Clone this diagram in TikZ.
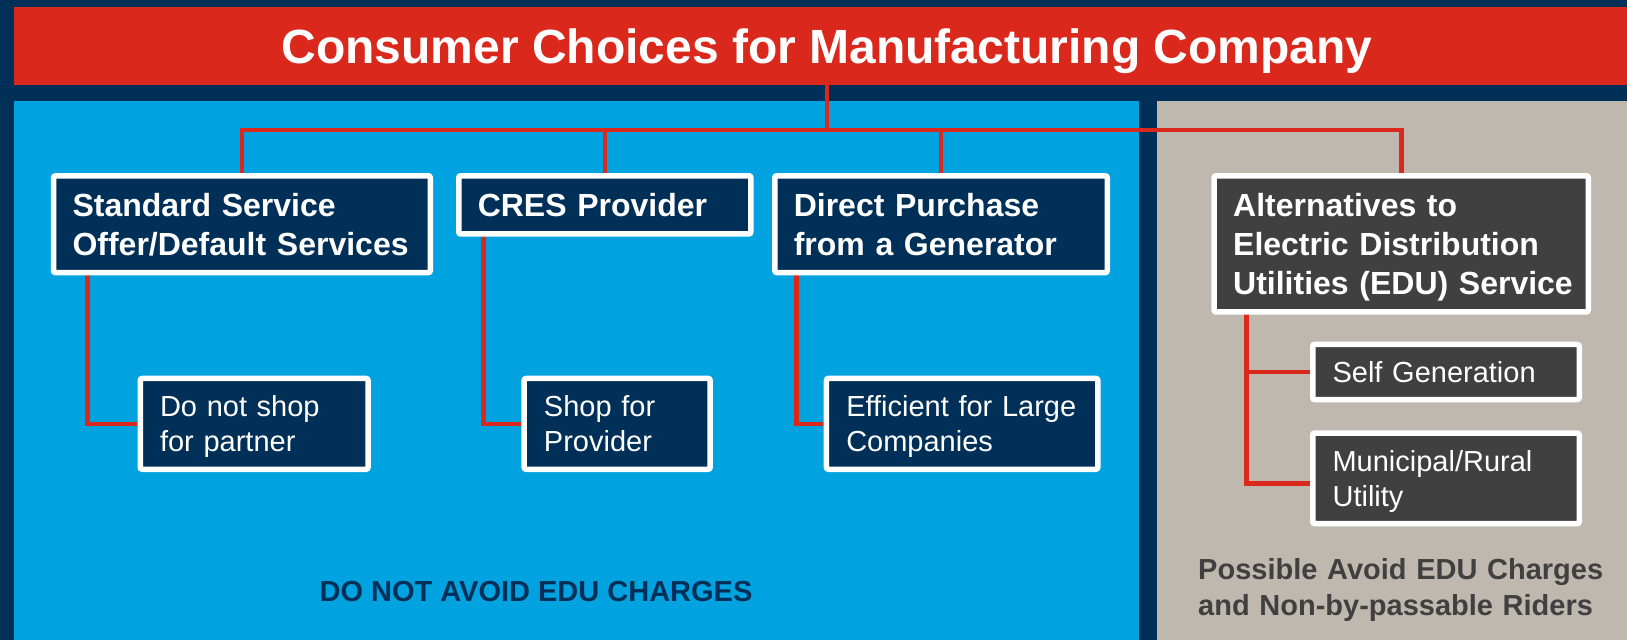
\documentclass[tikz,border=0pt]{standalone}
\usepackage{fontspec}
\setmainfont{Liberation Sans}
\definecolor{navy}{RGB}{0,48,87}
\definecolor{bluep}{RGB}{0,162,224}
\definecolor{grayp}{RGB}{191,184,175}
\definecolor{linkred}{RGB}{218,41,28}
\definecolor{dgray}{RGB}{64,64,64}
\pgfdeclarelayer{back}
\pgfdeclarelayer{wires}
\pgfsetlayers{back,wires,main}
\begin{document}
\begin{tikzpicture}[x=1pt,y=-1pt,
  box/.style={draw=white, line width=5.5pt, fill=navy, rounded corners=2pt, align=left, text=white, inner ysep=0pt, outer sep=0pt,
    execute at begin node={\rule{0pt}{0.966em}}, execute at end node={\rule[-0.25em]{0pt}{0pt}}},
  bigbox/.style={box, font=\fontsize{32}{38.7}\selectfont\bfseries, inner xsep=19pt},
  smallbox/.style={box, font=\fontsize{29}{35}\selectfont, inner xsep=19.8pt},
  link/.style={draw=linkred, line width=4.6pt},
  foot/.style={font=\fontsize{29}{36.6}\selectfont\bfseries, inner sep=0pt}]
\useasboundingbox (0,0) rectangle (1627,640);
\begin{pgfonlayer}{back}
  \fill[navy] (0,0) rectangle (1627,640);
  \fill[bluep] (14,100.7) rectangle (1139,640);
  \fill[grayp] (1157,100.7) rectangle (1627,640);
\end{pgfonlayer}
% banner and title
\node[fill=linkred, minimum width=1613pt, minimum height=78.3pt, inner sep=0pt, outer sep=0pt, anchor=north west] (banner) at (14,6.7) {};
\node[anchor=base, text=white, inner sep=0pt, font=\fontsize{48}{55}\selectfont\bfseries] (title) at (827,63.3) {Consumer Choices for Manufacturing Company};
% main choice boxes
\node[bigbox, text width=338.8pt, minimum height=96.8pt] (b1) at (241.9,224.2) {Standard Service\\Offer/Default Services};
\node[bigbox, text width=254.1pt, minimum height=58.2pt] (b2) at (604.8,204.85) {CRES Provider};
\node[bigbox, text width=294.5pt, minimum height=96.8pt] (b3) at (941,224.2) {Direct Purchase\\from a Generator};
\node[bigbox, fill=dgray, text width=336.1pt, minimum height=136.2pt] (b4) at (1401.2,243.85) {Alternatives to\\Electric Distribution\\\mbox{Utilities (EDU) Service}};
% sub boxes
\node[smallbox, text width=188.2pt, minimum height=90.8pt] (s1) at (254.15,423.85) {Do not shop\\for partner};
\node[smallbox, text width=146.4pt, minimum height=90.8pt] (s2) at (617.15,423.85) {Shop for\\Provider};
\node[smallbox, text width=231.8pt, minimum height=90.8pt] (s3) at (962.15,423.85) {Efficient for Large\\Companies};
\node[smallbox, fill=dgray, text width=226.9pt, minimum height=55.1pt] (sg) at (1446,372) {Self Generation};
\node[smallbox, fill=dgray, text width=226.9pt, minimum height=90.5pt] (mu) at (1446,478.3) {Municipal/Rural\\Utility};
% footers
\node[foot, anchor=base, text=navy] (f1) at (536,601.5) {DO NOT AVOID EDU CHARGES};
\node[foot, anchor=base west, text=dgray, text width=430pt, align=left] (f2) at (1198,579) {Possible Avoid EDU Charges\\and Non-by-passable Riders};
% connectors
\begin{pgfonlayer}{wires}
  \coordinate (hub) at (827,130);
  \draw[link] (title |- banner.south) -- (hub);
  \draw[link] (b1.north) -- (b1.north |- hub) -- (b4.north |- hub) -- (b4.north);
  \draw[link] (b2.north |- hub) -- (b2.north);
  \draw[link] (b3.north |- hub) -- (b3.north);
  \draw[link] ([xshift=33.8pt]b1.south west) |- (s1.west);
  \draw[link] ([xshift=25pt]b2.south west) |- (s2.west);
  \draw[link] ([xshift=21.75pt]b3.south west) |- (s3.west);
  \coordinate (v4) at ([xshift=32.3pt]b4.south west);
  \draw[link] (v4) |- ([yshift=-5.4pt]mu.west);
  \draw[link] (v4 |- sg.west) -- (sg.west);
\end{pgfonlayer}
\end{tikzpicture}
\end{document}
